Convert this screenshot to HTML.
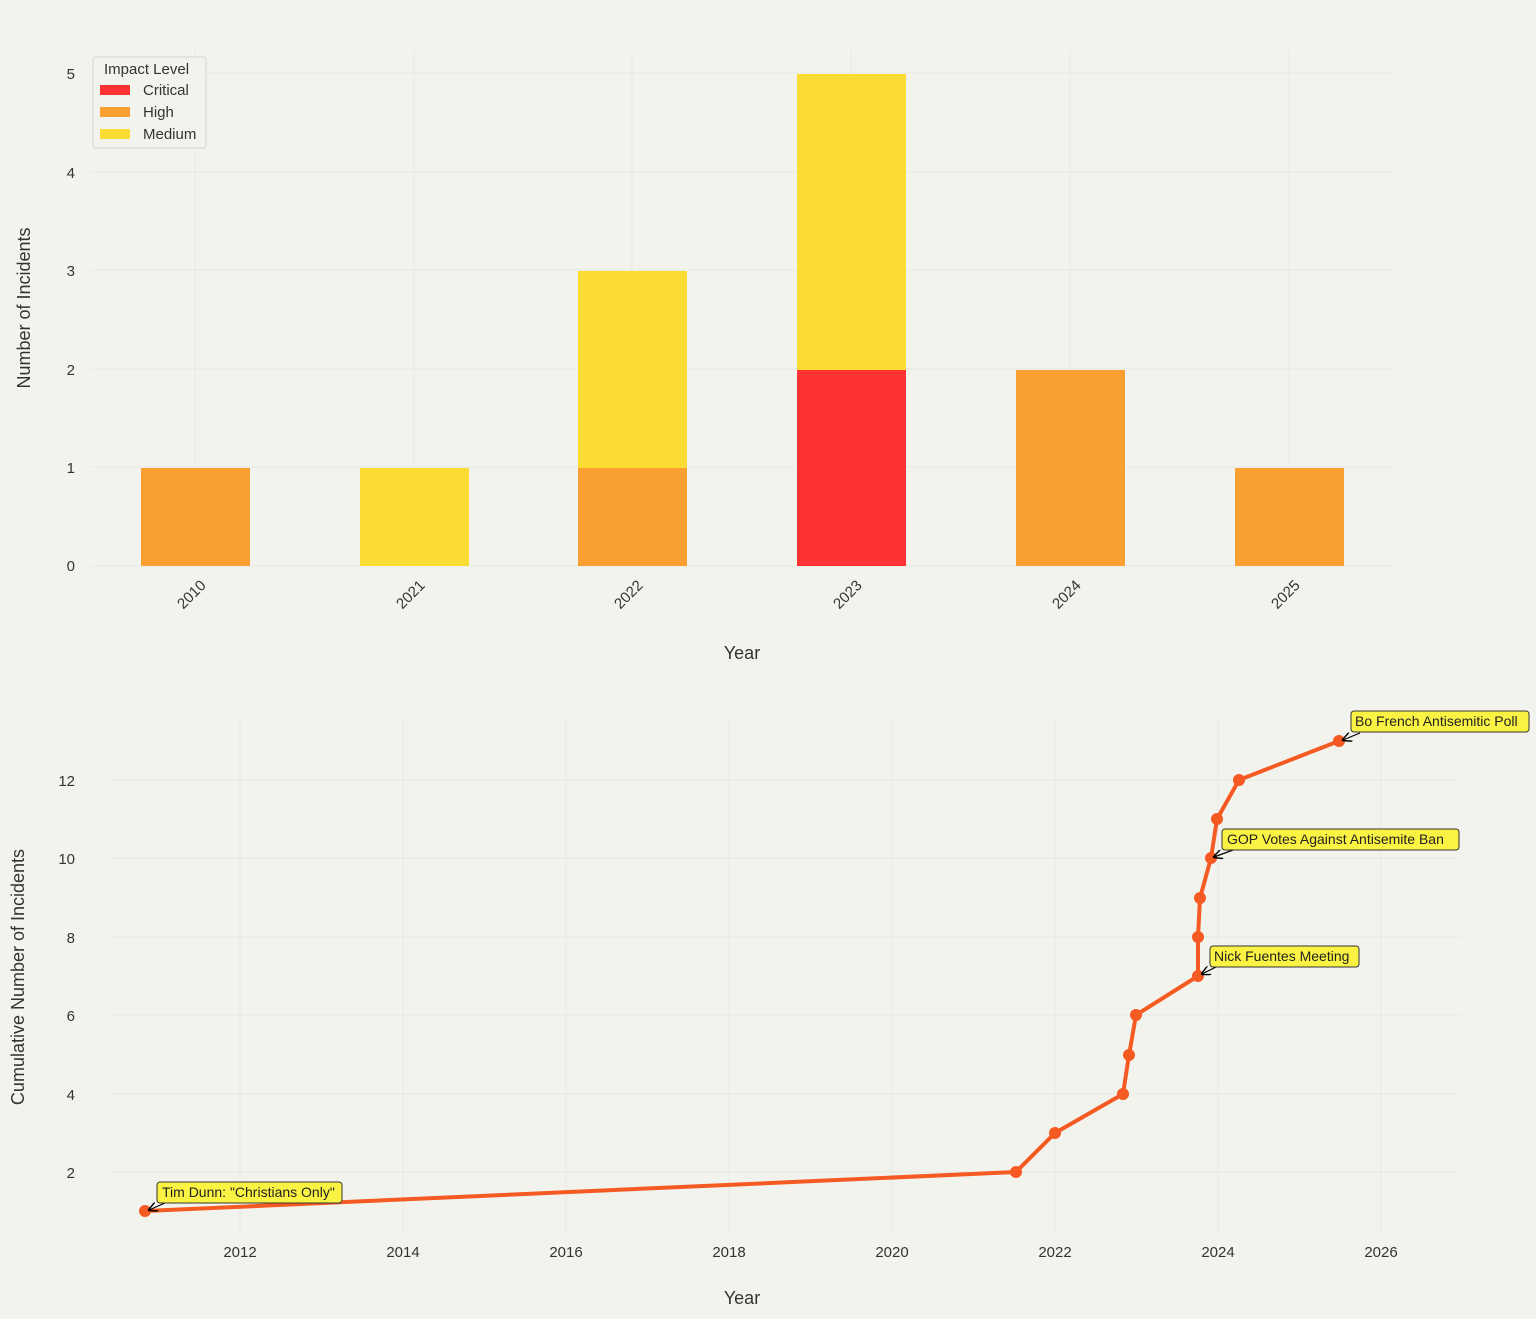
<!DOCTYPE html>
<html><head><meta charset="utf-8"><style>
html,body{margin:0;padding:0;background:#f3f3ee;}
svg{display:block;font-family:"Liberation Sans",sans-serif;}
</style></head><body>
<svg width="1536" height="1319" viewBox="0 0 1536 1319" xmlns="http://www.w3.org/2000/svg">
<defs><marker id="ah" markerWidth="8" markerHeight="8" refX="7" refY="4" orient="auto"><path d="M0,0 L8,4 L0,8" fill="none" stroke="#000" stroke-width="1.2"/></marker></defs>
<rect width="1536" height="1319" fill="#f3f3ee"/>
<!-- top grid -->
<g stroke="#e8e8e2" stroke-width="1">
<line x1="90" y1="566" x2="1395" y2="566"/><line x1="90" y1="467" x2="1395" y2="467"/><line x1="90" y1="369" x2="1395" y2="369"/><line x1="90" y1="270" x2="1395" y2="270"/><line x1="90" y1="172" x2="1395" y2="172"/><line x1="90" y1="73" x2="1395" y2="73"/>
<line x1="195" y1="50" x2="195" y2="566"/><line x1="414" y1="50" x2="414" y2="566"/><line x1="632" y1="50" x2="632" y2="566"/><line x1="851" y1="50" x2="851" y2="566"/><line x1="1070" y1="50" x2="1070" y2="566"/><line x1="1289" y1="50" x2="1289" y2="566"/>
</g>
<!-- bars -->
<rect x="141" y="468" width="109" height="98" fill="#f9a030"/>
<rect x="360" y="468" width="109" height="98" fill="#fbdc33"/>
<rect x="578" y="468" width="109" height="98" fill="#f9a030"/>
<rect x="578" y="271" width="109" height="197" fill="#fbdc33"/>
<rect x="797" y="370" width="109" height="196" fill="#fd3232"/>
<rect x="797" y="74" width="109" height="296" fill="#fbdc33"/>
<rect x="1016" y="370" width="109" height="196" fill="#f9a030"/>
<rect x="1235" y="468" width="109" height="98" fill="#f9a030"/>
<g font-size="15" fill="#333" text-anchor="end">
<text x="75" y="571">0</text><text x="75" y="473">1</text><text x="75" y="375">2</text><text x="75" y="276">3</text><text x="75" y="178">4</text><text x="75" y="79">5</text>
</g>
<g font-size="15" fill="#333" text-anchor="middle">
<text transform="translate(195,598) rotate(-45)">2010</text>
<text transform="translate(414,598) rotate(-45)">2021</text>
<text transform="translate(632,598) rotate(-45)">2022</text>
<text transform="translate(851,598) rotate(-45)">2023</text>
<text transform="translate(1070,598) rotate(-45)">2024</text>
<text transform="translate(1289,598) rotate(-45)">2025</text>
<text x="742" y="659" font-size="18">Year</text>
<text transform="translate(30,308) rotate(-90)" font-size="18">Number of Incidents</text>
</g>
<!-- legend -->
<rect x="93" y="57" width="113" height="91" rx="3" fill="#f3f3ee" stroke="#d6d6d0"/>
<g font-size="15" fill="#333">
<text x="104" y="74">Impact Level</text>
<rect x="100" y="85" width="30" height="10" fill="#fd3232"/><text x="143" y="95">Critical</text>
<rect x="100" y="107" width="30" height="10" fill="#f9a030"/><text x="143" y="117">High</text>
<rect x="100" y="129" width="30" height="10" fill="#fbdc33"/><text x="143" y="139">Medium</text>
</g>
<!-- bottom grid -->
<g stroke="#e8e8e2" stroke-width="1">
<line x1="110" y1="1172" x2="1460" y2="1172"/><line x1="110" y1="1094" x2="1460" y2="1094"/><line x1="110" y1="1015" x2="1460" y2="1015"/><line x1="110" y1="937" x2="1460" y2="937"/><line x1="110" y1="858" x2="1460" y2="858"/><line x1="110" y1="780" x2="1460" y2="780"/>
<line x1="240" y1="718" x2="240" y2="1232"/><line x1="403" y1="718" x2="403" y2="1232"/><line x1="566" y1="718" x2="566" y2="1232"/><line x1="729" y1="718" x2="729" y2="1232"/><line x1="892" y1="718" x2="892" y2="1232"/><line x1="1055" y1="718" x2="1055" y2="1232"/><line x1="1218" y1="718" x2="1218" y2="1232"/><line x1="1381" y1="718" x2="1381" y2="1232"/>
</g>
<g font-size="15" fill="#333" text-anchor="end">
<text x="75" y="1178">2</text><text x="75" y="1100">4</text><text x="75" y="1021">6</text><text x="75" y="943">8</text><text x="75" y="864">10</text><text x="75" y="786">12</text>
</g>
<g font-size="15" fill="#333" text-anchor="middle">
<text x="240" y="1257">2012</text><text x="403" y="1257">2014</text><text x="566" y="1257">2016</text><text x="729" y="1257">2018</text><text x="892" y="1257">2020</text><text x="1055" y="1257">2022</text><text x="1218" y="1257">2024</text><text x="1381" y="1257">2026</text>
<text x="742" y="1304" font-size="18">Year</text>
<text transform="translate(24,977) rotate(-90)" font-size="18">Cumulative Number of Incidents</text>
</g>
<polyline fill="none" stroke="#f55a22" stroke-width="4" stroke-linejoin="round" points="145,1211 1016,1172 1055,1133 1123,1094 1129,1055 1136,1015 1198,976 1198,937 1200,898 1211,858 1217,819 1239,780 1339,741"/>
<g fill="#f55a22">
<circle cx="145" cy="1211" r="6"/><circle cx="1016" cy="1172" r="6"/><circle cx="1055" cy="1133" r="6"/><circle cx="1123" cy="1094" r="6"/><circle cx="1129" cy="1055" r="6"/><circle cx="1136" cy="1015" r="6"/><circle cx="1198" cy="976" r="6"/><circle cx="1198" cy="937" r="6"/><circle cx="1200" cy="898" r="6"/><circle cx="1211" cy="858" r="6"/><circle cx="1217" cy="819" r="6"/><circle cx="1239" cy="780" r="6"/><circle cx="1339" cy="741" r="6"/>
</g>
<!-- annotations -->
<g stroke="#000" stroke-width="1.2" fill="none" marker-end="url(#ah)">
<line x1="165" y1="1203" x2="149" y2="1210"/>
<line x1="1216" y1="967" x2="1202" y2="974"/>
<line x1="1233" y1="850" x2="1214" y2="857"/>
<line x1="1360" y1="733" x2="1343" y2="740"/>
</g>
<g font-size="14" fill="#222">
<rect x="157" y="1182" width="185" height="21" rx="3" fill="#fbf343" stroke="#333"/><text x="162" y="1197">Tim Dunn: "Christians Only"</text>
<rect x="1210" y="946" width="149" height="21" rx="3" fill="#fbf343" stroke="#333"/><text x="1214" y="961">Nick Fuentes Meeting</text>
<rect x="1222" y="829" width="237" height="21" rx="3" fill="#fbf343" stroke="#333"/><text x="1227" y="844">GOP Votes Against Antisemite Ban</text>
<rect x="1351" y="711" width="178" height="21" rx="3" fill="#fbf343" stroke="#333"/><text x="1355" y="726">Bo French Antisemitic Poll</text>
</g>
</svg>
</body></html>
